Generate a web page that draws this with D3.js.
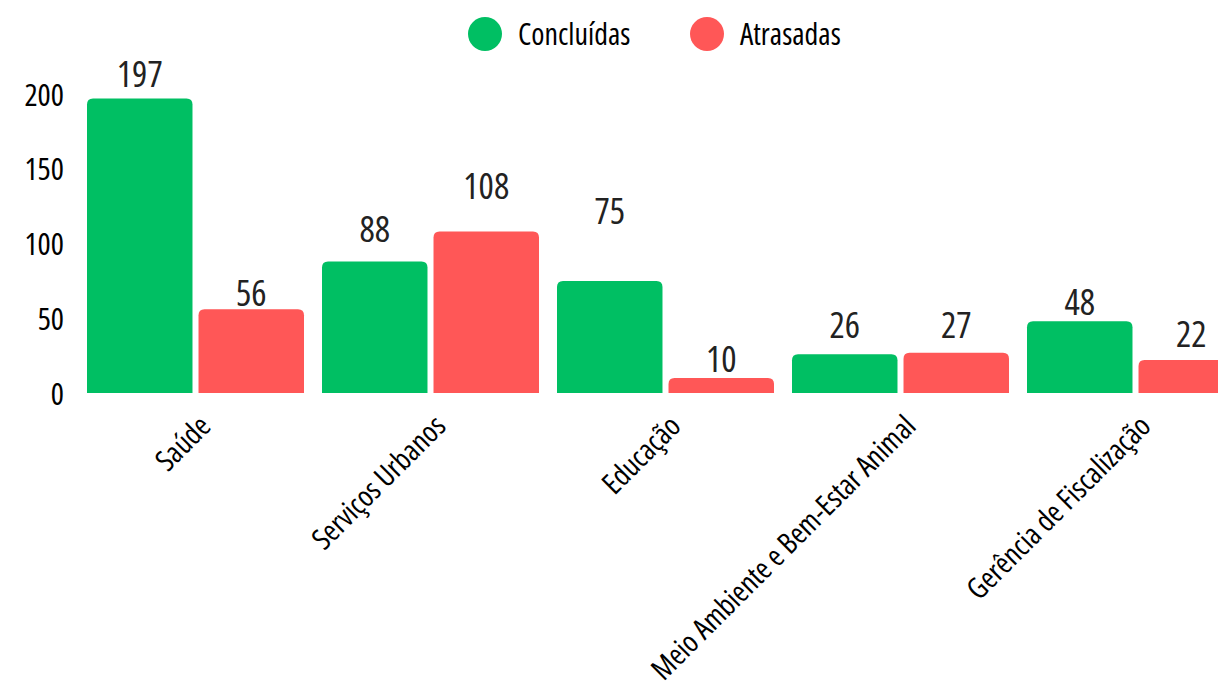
<!DOCTYPE html>
<html>
<head>
<meta charset="utf-8">
<script src="https://cdn.jsdelivr.net/npm/d3@7"></script>
<style>
  body { margin: 0; background: #fff; }
  svg text { font-family: "Open Sans", sans-serif; font-stretch: condensed; font-weight: 400; }
</style>
</head>
<body>
<svg id="chart" width="1218" height="683"></svg>
<script>
// data
const categories = ["Saúde", "Serviços Urbanos", "Educação", "Meio Ambiente e Bem-Estar Animal", "Gerência de Fiscalização"];
const seriesNames = ["Concluídas", "Atrasadas"];
const concluidas = [197, 88, 75, 26, 48];
const atrasadas = [56, 108, 10, 27, 22];
// where the value labels sit (in value units), they are not at a fixed offset in the original
const labelConcluidas = [205, 101, 113, 37, 52];
const labelAtrasadas = [58, 130, 14, 37, 31];
const yTicks = [0, 50, 100, 150, 200];
const colors = ["#00bf63", "#ff5757"];

const svg = d3.select("#chart");

const x0 = d3.scaleBand()
    .domain(categories)
    .range([69, 1262])
    .padding(0.0766);

const x1 = d3.scaleBand()
    .domain(seriesNames)
    .range([0, x0.bandwidth()])
    .paddingInner(0.054);

const y = d3.scaleLinear()
    .domain([0, 200])
    .range([393, 94]);

const color = d3.scaleOrdinal().domain(seriesNames).range(colors);

// rows for drawing
var rows = categories.map(function(c, i) {
    return [
        {cat: c, s: seriesNames[0], v: concluidas[i], lv: labelConcluidas[i]},
        {cat: c, s: seriesNames[1], v: atrasadas[i], lv: labelAtrasadas[i]}
    ];
});

// bar with rounded top corners only
function topRounded(x, yTop, w, yBottom, r) {
    r = Math.min(r, w / 2, yBottom - yTop);
    return "M" + x + "," + yBottom +
        "V" + (yTop + r) +
        "Q" + x + "," + yTop + " " + (x + r) + "," + yTop +
        "H" + (x + w - r) +
        "Q" + (x + w) + "," + yTop + " " + (x + w) + "," + (yTop + r) +
        "V" + yBottom + "Z";
}

var groups = svg.append("g").selectAll("g")
    .data(rows)
    .join("g")
    .attr("transform", function(d) { return "translate(" + x0(d[0].cat) + ",0)"; });

groups.selectAll("path")
    .data(function(d) { return d; })
    .join("path")
    .attr("fill", function(d) { return color(d.s); })
    .attr("d", function(d) { return topRounded(x1(d.s), y(d.v), x1.bandwidth(), y(0), 6); });

groups.selectAll("text.val")
    .data(function(d) { return d; })
    .join("text")
    .attr("class", "val")
    .attr("x", function(d) { return x1(d.s) + x1.bandwidth() / 2; })
    .attr("y", function(d) { return y(d.lv); })
    .attr("text-anchor", "middle")
    .attr("fill", "#222")
    .style("font-size", "36px")
    .text(function(d) { return d.v; });

// y axis, labels only
var yAxis = svg.append("g")
    .attr("transform", "translate(64,0)")
    .call(d3.axisLeft(y).tickValues(yTicks).tickSize(0).tickPadding(0));
yAxis.select(".domain").remove();
yAxis.selectAll("text")
    .attr("fill", "#000")
    .style("font-size", "31px")
    .attr("dy", "0.36em");

// x axis, rotated labels
var xAxis = svg.append("g")
    .attr("transform", "translate(0," + y(0) + ")")
    .call(d3.axisBottom(x0).tickSize(0).tickPadding(0));
xAxis.select(".domain").remove();
xAxis.selectAll("text")
    .attr("fill", "#000")
    .style("font-size", "29.5px")
    .attr("text-anchor", "end")
    .attr("dy", "0")
    .attr("y", 0)
    .attr("transform", "translate(17,35) rotate(-45)");

// legend
var legendX = [485, 707];
var legend = svg.append("g").selectAll("g")
    .data(seriesNames)
    .join("g")
    .attr("transform", function(d, i) { return "translate(" + legendX[i] + ",34)"; });
legend.append("circle")
    .attr("r", 17)
    .attr("fill", function(d) { return color(d); });
legend.append("text")
    .attr("x", 33)
    .attr("dy", "0.36em")
    .attr("fill", "#000")
    .style("font-size", "30px")
    .text(function(d) { return d; });
</script>
</body>
</html>
